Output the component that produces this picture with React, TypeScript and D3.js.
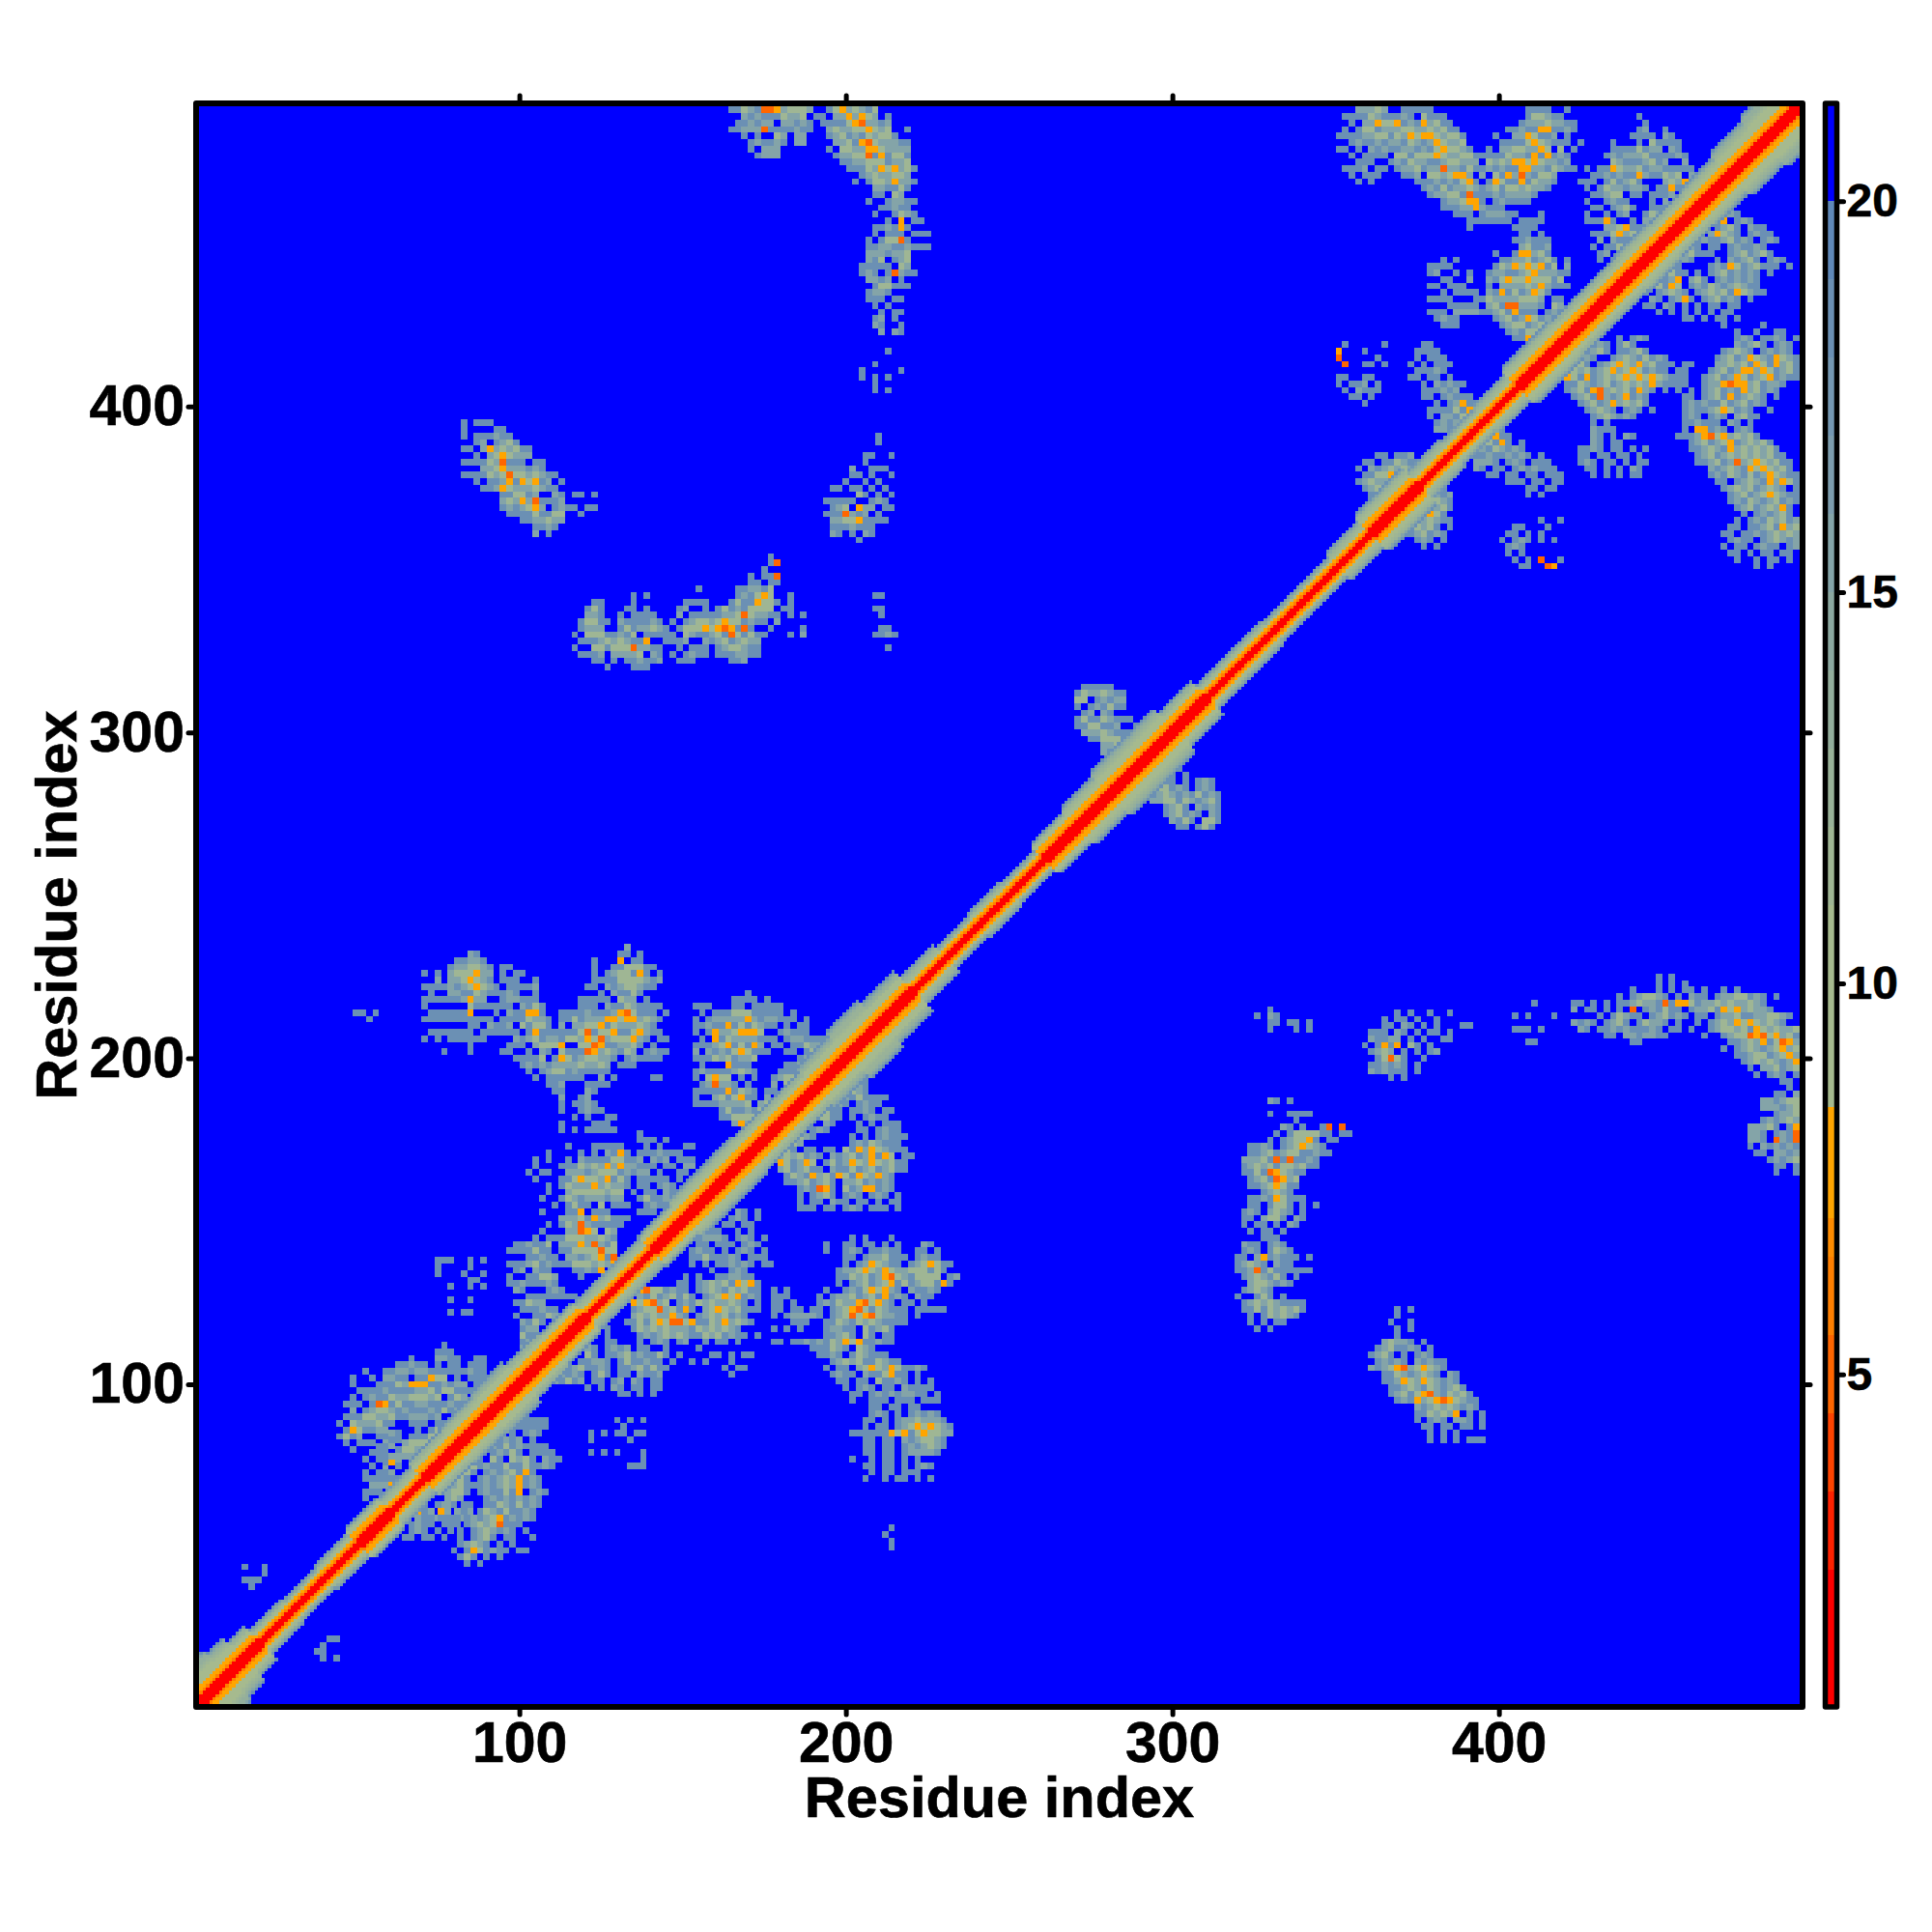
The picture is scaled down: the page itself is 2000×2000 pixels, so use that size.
import { axisBottom, axisLeft, axisRight, axisTop, bisectLeft, scaleLinear, scaleThreshold, select } from "d3";
import { useEffect, useRef } from "react";

const xTicks = [100, 200, 300, 400];
const yTicks = [100, 200, 300, 400];
const legendTicks = [5, 10, 15, 20];
const axisTitle = "Residue index";

// colour bar bins (upper limit of each bin -> colour)
const levelLimits = [2.5, 3.5, 4.5, 5.5, 6.5, 7, 8.42, 11, 12, 13, 14, 15, 16, 17, 18, 19, 20];
const levelColors = [
  "#ff0000", "#ff2200", "#ff4400", "#ff6600", "#ff7f00", "#ff8c00", "#ffa500",
  "#a6ba8e", "#9fb694", "#99b298", "#93ae9c", "#8ca9a1", "#84a4a8", "#7d9dae",
  "#7497b2", "#6b90b4", "#5f88b8", "#0000ff",
];
const legendEdges = [0.75, 2.5, 3.5, 4.5, 5.5, 6.5, 7, 8.42, 11, 12, 13, 14, 15, 16, 17, 18, 19, 20, 21.25];

// band around the diagonal: last residue of each stretch and its half width
const bandEnds = [
  10, 15, 20, 30, 40, 50, 60, 70, 80, 90, 100, 110, 120, 140, 150, 170, 190, 200, 210, 220, 230, 240, 250, 260,
  270, 280, 300, 310, 330, 350, 360, 375, 385, 395, 405, 420, 440, 450, 460, 470, 480, 493,
];
const bandWidths = [
  15, 13, 10, 7, 6, 7, 9, 8, 10, 11, 12, 10, 9, 8, 9, 11, 10, 12, 14, 12, 8, 6, 7, 6,
  9, 11, 13, 10, 7, 6, 8, 11, 8, 7, 8, 11, 10, 11, 10, 11, 13, 15,
];
// values by distance from the diagonal
const bandCore = [2, 2, 2, 6, 7, 8];
const bandOuter = [10, 10, 10, 11, 12, 13, 15, 18];
const bandNarrow = [2, 2, 6, 8, 10, 11, 12, 13, 14];
const bandEdgeValues = [17, 14];

// what each letter in the patches below stands for
const patchLetters = ["r", "o", "s", "m", "b"];
const patchValues = [5, 7.5, 11, 15, 18];

// patches below the diagonal, mirrored above it; one letter = 2 residues, top row first
const patchTiny = ["..bb", ".b..", "bb..", ".b.b"];
const patchSpeck = [".b", "b.", ".b", ".b", ".."];
const patchLowBand = ["...bb.b", "..mbbm", ".bmb.b", "mb.bb", "bmbb"];
const patchStemA = [
  ".....b.bmb.bb", "....obm.b.mbm", "....mbbmb.bmb", "...bmbb.b.b..", "...bmb.b.b....", "..bb.bb.b.....",
];
const patchStemB = [
  ".........msobmbbbb", ".......mbmsmsbbbbb", "........mbm.b.bmb..", ".......bs.bmbm.b...",
  ".....mbsbmbsbmbbbb", "....mbsb.bmbsb.bbbb", "....sbmb.sb.smsb.mbb", "....mbsbmbbsbbsbbmb",
  "....msb.bmbmsbob..", "...msb.bmbmsmobmb", "...msbbbmbmsmobmb", "..mssb.bmbbsbo.bmb",
  "..msm...bmbmbmbmb..", "..mb....bbsmbsbmb", ".om....bsmbsbbmb.", ".bbb.bmbmsobmbmb",
  "..bb.bmsmsrbbb..", "....b.bmsmbmb.b.", "....b.bmsb.bb..b", "....bmsmb.b.b...",
  "...b.bosbmbb.bb", "....bsb.b.b....", ".....b.b......",
];
const patchMiddle = [
  "....................b.b..bbmmbb..", "...................bb.bmsmsbosob.", ".............orssbmbb.bmsmbsmsbb",
  ".............mbsbmsbsb.bmsosobmb.", "............osorms.bmbsmsmmsmb.b.", "............bmssrmsbob.msosmsbbb.",
  "............msmsmmomb.bmsmsbmb...", "...........bbsbsosrrsobbsmomsmb..", "........b...bsmsmsmmmbsmsmsmb....",
  "........b....bmbmsmsmbbsmsbmbb.b.", "........bb...b.bmb.bm..b.bb.b....", ".....mb.bmbm.bb..b....b.........",
  "..bb.sb.bbmsbmbbsb.b....bb.b.bb..", ".ob.bbmmb.bsbbmbb.b..b.b...b....", "..bmsbbmb.bbmsbsbb........b.bb...",
  "bmbmb.bsb.bb.mbbm..........b.....", "mbsbm.bb.bm.mb.bb................", ".....b.b.mb.bb.bb................",
  "..........bb.b.b.................",
];
const patchUpperMiddle = [
  ".bbmb.b.b.mb.b", "..bsb.bb.bmb.b", "....bmb.bb.bb.", "...bbmbb..b.b..", "....bmmmb.bmb.b",
  "....bb.bbb.bmb.", "...bmbb.b.bmb.b", "...bbsbbbmb.bbb", "...b.b.bbmbmb.bb", "......b..bmb..",
];
const patchArm = [
  "............b.b...b.........", "........b..bb.bb.b.b...mb...", "........b..bmb.bbmbb..bb.b..",
  "...........bb.bmmsbbb.bmbb..", "...........b.bmosmbb.bmsosbb", "..........bmmsosmosmmsssbsb.",
  "..........bbsmsbmorsmbssss.bm", "..........b.bmsbmsobsbmssbob", "b.b.....b..bmbsosomb.mbbmb..",
  "bbb....b.bmmsbmsbobmb.mbb...", "bb.b...bmbsmmorsomb.bb.b....", "bb.bb.bb.bmsorsbsmbbb.bbbbb.",
  "b.bmmmmb.bmsrsorsmmbb.b.....", "...bbb..bbsmbsmsmbbbb.......", "b.b.b...bmmbb.sbmsb.........",
  "........bbmsb.sb.bb.........", "bb.bbmbmbsmosobbmbb.........", "......bbbsmb.smb............",
  ".......bbmb.bsmbbb..........", ".........bmsmsbbsmbb........", "........b.bb.msosmosbbmb....",
  ".........bmbb.mbbsobb.b.....", "..........bb.bb.sbbmb.b.b...", "...........b.bmb.bb.mbbbb...",
  "............bb.bmbmbmmbb.b..", "............b..bbb.bbb.bbb..", "...............bb.bb.bb.....",
  "...............bmb.b.bmbmb..", "..............bb.b.bmmsmmmb.", "..............b.bb.bmsososmb",
  "............bbbbbbosobsossmm", "..............bb.bb.mbmssmb.", "..............bb.bb.bmbmsmb.",
  "..............bb.bb.bmmmmb..", "............b..b.bb.b.b.....", "..............bb.bb.b.bmb...",
  "...............b.bb.bbb.....", "..............b..b.bb.b.b...",
];
const patchSparseLow = ["....b.b.b", ".....b...", "b.b.bb.bb", "b.....b..", ".........", "b.b.b...b", "........b", "......bbb"];
const patchShoulder = [
  "................b", "................b", "...............mb", "...........sbmsmb", "........orosbmbsbbbb",
  "........osbbmb.bmbb", "........mmsbb.bbmb.bb", "........mssbb.b.bmbb", "..........mb...b.b.bbb",
  "........bmb....bb.bmbb", ".....msmb.....b.b.bmbbb", "...smsm.......bmbsmbbb.", "..orsb.bb.bb.sbomosmbbb",
  "...msmsbmb.mbmsbmobos.bb", "...osbmos.bsbmosmosmsbb.", "...msbmsbb.mbbsbmsbmsbb", "....bsmbomsbosbosmomb..",
  "....bbmsbmsb.mmsbmbmb..", "......bmbrob.sbmoobmb..", "......b.bmsb.bmb.bmb.b", "......b.bb.mbb.bb.b.bb.",
  "......bbb.bb.bmb.bbb.b",
];
const patchCrossArm = [
  "mmmmb", "mmssb", "bsbmb..", "msbb.b...", "smbb.b.bmb", "mssbmb.bmb", "bmsmbmbsbmb",
  "mmssbsmbmsb", "..bmsb.mbmb", "..bmsbmb.mb", "...mbsb.ssb", "....bb.bsb.",
];
const patchStrandLong = [
  "......mb.b", "", "......b..bbbb", "..........b", "........mb.b..br.r.", ".......b.bssssbb.bb.",
  "......b.bmssob.bb.", "...bbmb.bmsosmb", "...bbmsbmssbbmbb", "..mmmsbrbrbbmb", "..bmsmsbssmsbb.",
  "..bbsbrosmbb", "...bmsbroms..", "...bbmsosbb", ".....bmsmb.", "...bbmbosbbb", "...bb.bssb.b.b",
  "..bmb.msmb.b", "..bb.mssb.mb", "..b.bb.b.mb", "...b.bb.b.", ".....bbb", "..mbb.bmb", "..bmb.bsmb",
  ".bb.mobmbbb.b", ".bmsmb.mbb", ".bbmrbsbbbbbb", "..bmsmbsb.b", "...mssmbmb", "..bmsmb..",
  ".b..bsb.b", "..bmsmsmbbbb", "..bbsbsmsmsb", "...b.bsmsmb.", "...b.b.bb", "....b.b",
];
const patchIslandA = ["..b", "b.mb", "..bb.bb.b", "..b...b.b"];
const patchIslandB = [
  ".....b.b..b..b..", "...b.bb.b..b...", "...bb.mb.b.b...bb", ".bbb.mb.b.bb.b", ".mbbmm.b.b..bb",
  "b.bobo.sb.b", ".bmsm.b.b.bm", "..bsrsb..b", ".bbmbmb.b.", ".mbmbbb.b", "....b.b",
];
const patchDiagonalStreak = [
  ".....b.b", ".....b", "....b..b", ".....b.b", ".....b.", "...msmmb.b", "..bmsbbmb.b", ".bmsb.b.bmb",
  "..bmbmb.mbmbb", ".mbmsormsosmb..", "...bbsmbmsmb.mb", "...bbmosmosmbmb", "....bbmsmbsmbmsb",
  "....bmsbsormbsmsb", ".....bmbomsorosmbb", "........mbmsmsmbmb", "........bbsmsmo.b.b", "........b.bmb.mmb.b",
  ".........bb.bb.bb.b", "..........b.b.b....", "..........b.b.b.bbb",
];
const patchArc = [
  "........................b.b", "........................b.b.b", "....................b...b.b.bb.b..b.b",
  "..................b.bmssmb.b.mbb.bmmssbmb.b", ".....b.....bb.b.b.bbmsmmbrboosbmmsmsmmsmb",
  "...........m.bb.b.b.r.bmbsbb.bmmsbosomsmmb", "..b.b...b......b.bsmbb.bmsbmb.bb.bmmsbbmmssmb",
  "...........mbmb.bmsb.bsmmb.b..b.bmsmososmsmb", "..bbb.b.....mb.bbmbmbbbmb.bb.b..bmssmsbosmsmmsb",
  "................bb.mmbmmbb.....b..bmssrorsomsbmb", "....bb..............bb.............bbmsmobsromsmbm",
  "..................................b.bmsmbmsomsmsbmm", "....................................bbmssbmsomsbmsbm",
  ".....................................bmsmsmbmormomsb", "......................................b.mmsbmsmsosb",
  ".......................................b.bmb.bmsmsmb", "...........................................bb.mbmomso",
  "............................................b.bb.mb.mm", "..........................................bb.mbmss",
  "........................................mmbmssmsms", "........................................mmmbmsbobo",
  "..........................................bmmsmbsbms", "........................................bmbmsmbsob",
  "......................................mmmsb.bosmb", "......................................mmb.bmbrbrbm",
  "......................................mmb.rmbrmbmm", "......................................b.mbmbmbsmm",
  ".......................................bb.mmbmbmb", ".........................................bmbmsb.b",
  "..........................................bb.bb.b", "..........................................b..bb",
];
const patchTopA = [
  "..........b.bmb", "...bb.bmb.bsb..", "...b.bmsb.bbmsb", "...bsmb..bmsmbsbmb", "...msb.bmsosmomsbmb",
  ".bmsmsbmsomsosbmbb", ".bosbobmsmsosososmbb", "..bbsmbmsbmsmsmomb.b", "..bmsbormsmsbomb.b",
  "...bmsbrmbmobmb", "....bmsbmomsmsb..", ".....bmsmb.bmb.b", "......bmsmbmb", "......b.b..", "......mbbb....",
  "......mb.b.mb", "......mb.bb.", "....bbmb.bb.b.b", "....bb.bb.bb.b", "....bmb.bb.b.bb", ".....bb.b.b.mb", "......b.b.b.bb",
];
const patchTopB = [
  "...m..", ".mb.....", "..mmbb", "..bmsbmb", "...msmobb", "....msbob.b..", "....mbsmbmb..",
  "...bbmbbmbmb.b", "...mmmb.bmb.bbb", "...mb.bb.bmbmbbb", ".....bb.bb.bb.bbb", "........bbb.bb.bb", "...........bb.bb", "...........b.b",
];
const patchTopC = [
  ".............b", "...............mb", "............mbo.bmb", ".............bmsb.mbb", "............mosmb.bmbb",
  ".........mbmbbmsbmb.bmb", "........bmb.bb.bmbbmb", "........msbbb..bmsbmsb", "........mb...b.mbmsb.bmb",
  "....smsb....bmbosbmsbbb.b", ".....msbb.b.bmsbmbmb.b.", "...osbmo.msb.bmbmbmb", "...msbos.bmbsmbmsmbb",
  "..b.bmsmb.bmsmsbosmbb", "...mb.bmob.bmsbmb.b", "..bb.mb.b.b.bb.bb", "....b.b.b.b.b.bb", "........bb.b.bb.b..", "..............b...",
];
const patchTopD = [
  "...............b", "...........b..b..bb", "...........bmb.bbmb.bb", "...........mbmsb.bmb.bb", ".........bmsmb.bmbmb.b",
  "........bmsbmosmbosmbmb", "bb.bb...mmsmsbosbomsbmb", "b.bb...bmsbmoomosbmsbb", "..bb..bmsbmosbmsobmbb",
  "bb.b..bmmoroomsbmmb.", "..b.b.bmsbmbomsbmb..", "...bb.bmsbobmsmb.b..", "...bmbmbbsbmsbmb..", "...bmbbmsosbmb..b",
  "...bmb.bmb.msbb", "...bbmbbb.mb.b.", "...b.oobmb.bmb", "..bbbmorsomsmsb...", "....bmsbmsobmsmsb",
  "....bbmsmbomsmsmsb", ".....bmsbmsmsmsmsbb", ".....bbmsbmrmsosmsbb", ".......mbmsmbososmsb", ".......bmbsmbsbmosmbb",
  "........bb.bmsmbomosb", ".........bmsmsbmsmb.b", "..........bmsbmsosmbbmm", "..........bmbsmbmsbmbmm", "...........bmsbmsmob.bm",
  "............b.bmbmsb.bbm", "...........b.bmbsmsbmbmm", "..........bb.bbmsbomsmbm", ".........bb.bbmbmsmsmb.mb",
  "..........bmbb.bmsmbmbb", ".........b.bb.bmbb.bmb", "..........bb.b.bb.bb", "...........b..b.bb.b", "..............b.b.",
];
const patchTopE = [
  "", "......b..b", "..bb...b..", ".bb.b.b...", "b.bmb.b.b.", ".bmb......", ".b.b.....", "..b.b.r..b", "...bb..ro",
];
const patchTopF = [
  "", "........mb", "........mbm", ".......bsmb", "......msmsb", ".....smosb", ".....omsmbb", "....msmsb.b", "....bmsbmb", ".....bmb.b", "......b.b",
];

const patchTable = [
  { x0: 37, yTop: 21, rows: patchTiny },
  { x0: 211, yTop: 55, rows: patchSpeck },
  { x0: 50, yTop: 56, rows: patchLowBand },
  { x0: 60, yTop: 62, rows: patchStemA },
  { x0: 73, yTop: 88, rows: patchStemB },
  { x0: 110, yTop: 132, rows: patchMiddle },
  { x0: 146, yTop: 152, rows: patchUpperMiddle },
  { x0: 177, yTop: 144, rows: patchArm },
  { x0: 121, yTop: 88, rows: patchSparseLow },
  { x0: 173, yTop: 195, rows: patchShoulder },
  { x0: 293, yTop: 292, rows: patchCrossArm },
  { x0: 317, yTop: 186, rows: patchStrandLong },
  { x0: 325, yTop: 214, rows: patchIslandA },
  { x0: 358, yTop: 213, rows: patchIslandB },
  { x0: 358, yTop: 122, rows: patchDiagonalStreak },
  { x0: 400, yTop: 224, rows: patchArc },
  { x0: 416, yTop: 420, rows: patchTopA },
  { x0: 386, yTop: 398, rows: patchTopB },
  { x0: 440, yTop: 460, rows: patchTopC },
  { x0: 450, yTop: 424, rows: patchTopD },
  { x0: 400, yTop: 366, rows: patchTopE },
  { x0: 364, yTop: 376, rows: patchTopF },
];

const FONT = "'Liberation Sans', Arial, sans-serif";

type Cell = { col: number; row: number; size: number; value: number };

const bandHalfWidth = (residue: number) =>
  bandWidths[Math.min(bisectLeft(bandEnds, residue), bandWidths.length - 1)];

const bandValue = (dist: number, width: number) => {
  if (width < 9) {
    if (dist === width) return bandEdgeValues[0];
    if (dist === width - 1) return bandEdgeValues[1];
    return bandNarrow[dist];
  }
  if (dist < bandCore.length) return bandCore[dist];
  const share = (dist - bandCore.length) / (width - bandCore.length);
  return bandOuter[Math.round(share * (bandOuter.length - 1))];
};

const buildCells = () => {
  const cells: Cell[] = [];
  patchTable.forEach(({ x0, yTop, rows }) => {
    rows.forEach((text, r) => {
      text.split("").forEach((letter, c) => {
        const idx = patchLetters.indexOf(letter);
        if (idx < 0) return;
        const col = x0 + c * 2;
        const row = yTop - r * 2;
        if (col > 491 || col <= row) return;
        cells.push({ col, row, size: 2, value: patchValues[idx] });
        cells.push({ col: row, row: col, size: 2, value: patchValues[idx] });
      });
    });
  });
  // the band goes on top of the patches
  for (let i = 1; i < 493; i++) {
    for (let j = i; j < 493; j++) {
      const width = bandHalfWidth((i + j) / 2);
      const dist = j - i;
      if (dist > width) break;
      const value = bandValue(dist, width);
      cells.push({ col: j, row: i, size: 1, value });
      if (dist > 0) cells.push({ col: i, row: j, size: 1, value });
    }
  }
  return cells;
};

const App = () => {
  const ref = useRef<SVGSVGElement>(null);

  useEffect(() => {
    if (!ref.current) return;
    const svg = select(ref.current);
    svg.selectAll("*").remove();

    const x = scaleLinear().domain([1, 493]).range([203, 1866]);
    const y = scaleLinear().domain([1, 493]).range([1767, 107]);
    const legendY = scaleLinear().domain([0.75, 21.25]).range([1767, 107]);
    const color = scaleThreshold<number, string>().domain(levelLimits).range(levelColors);

    svg
      .append("rect")
      .attr("x", x(1))
      .attr("y", y(493))
      .attr("width", x(493) - x(1))
      .attr("height", y(1) - y(493))
      .attr("fill", "#0000ff");

    svg
      .append("g")
      .attr("shape-rendering", "crispEdges")
      .selectAll("rect")
      .data(buildCells())
      .join("rect")
      .attr("x", (d) => x(d.col))
      .attr("y", (d) => y(d.row + d.size))
      .attr("width", (d) => x(d.col + d.size) - x(d.col))
      .attr("height", (d) => y(d.row) - y(d.row + d.size))
      .attr("fill", (d) => color(d.value));

    const styleAxis = (g: any, labels: boolean, size: number) => {
      g.select(".domain").remove();
      g.selectAll(".tick line").attr("stroke", "#000").attr("stroke-width", 5).attr("stroke-linecap", "round");
      g.selectAll(".tick text")
        .attr("font-family", FONT)
        .attr("font-weight", "bold")
        .attr("font-size", size)
        .attr("fill", "#000")
        .attr("stroke", "#000")
        .attr("stroke-width", 0.6)
        .style("display", labels ? null : "none");
    };

    svg
      .append("g")
      .attr("transform", `translate(0,${y(1)})`)
      .call(axisBottom(x).tickValues(xTicks).tickSize(8).tickPadding(7))
      .call((g) => styleAxis(g, true, 59));
    svg
      .append("g")
      .attr("transform", `translate(0,${y(493)})`)
      .call(axisTop(x).tickValues(xTicks).tickSize(8))
      .call((g) => styleAxis(g, false, 59));
    svg
      .append("g")
      .attr("transform", `translate(${x(1)},0)`)
      .call(axisLeft(y).tickValues(yTicks).tickSize(8).tickPadding(4))
      .call((g) => styleAxis(g, true, 59));
    svg
      .append("g")
      .attr("transform", `translate(${x(493)},0)`)
      .call(axisRight(y).tickValues(yTicks).tickSize(8))
      .call((g) => styleAxis(g, false, 59));

    svg
      .append("rect")
      .attr("x", x(1))
      .attr("y", y(493))
      .attr("width", x(493) - x(1))
      .attr("height", y(1) - y(493))
      .attr("fill", "none")
      .attr("stroke", "#000")
      .attr("stroke-width", 6)
      .attr("stroke-linejoin", "round");

    // colour bar
    const barX = 1889.5;
    const barW = 12;
    svg
      .append("g")
      .attr("shape-rendering", "crispEdges")
      .selectAll("rect")
      .data(levelColors)
      .join("rect")
      .attr("x", barX)
      .attr("width", barW)
      .attr("y", (_, i) => legendY(legendEdges[i + 1]))
      .attr("height", (_, i) => legendY(legendEdges[i]) - legendY(legendEdges[i + 1]))
      .attr("fill", (d) => d);
    svg
      .append("g")
      .attr("transform", `translate(${barX + barW},0)`)
      .call(axisRight(legendY).tickValues(legendTicks).tickSize(7).tickPadding(3))
      .call((g) => styleAxis(g, true, 48));
    svg
      .append("rect")
      .attr("x", barX)
      .attr("y", legendY(21.25))
      .attr("width", barW)
      .attr("height", legendY(0.75) - legendY(21.25))
      .attr("fill", "none")
      .attr("stroke", "#000")
      .attr("stroke-width", 5.5)
      .attr("stroke-linejoin", "round");

    svg
      .append("text")
      .attr("x", (x(1) + x(493)) / 2)
      .attr("y", 1881)
      .attr("text-anchor", "middle")
      .attr("font-family", FONT)
      .attr("font-weight", "bold")
      .attr("font-size", 59.5)
      .attr("stroke", "#000")
      .attr("stroke-width", 0.6)
      .text(axisTitle);
    svg
      .append("text")
      .attr("transform", `translate(79,${(y(1) + y(493)) / 2}) rotate(-90)`)
      .attr("text-anchor", "middle")
      .attr("font-family", FONT)
      .attr("font-weight", "bold")
      .attr("font-size", 59.5)
      .attr("stroke", "#000")
      .attr("stroke-width", 0.6)
      .text(axisTitle);
  }, []);

  return (
    <svg
      ref={ref}
      width={2000}
      height={2000}
      style={{ position: "absolute", top: 0, left: 0, background: "#fff" }}
    />
  );
};

export default App;
